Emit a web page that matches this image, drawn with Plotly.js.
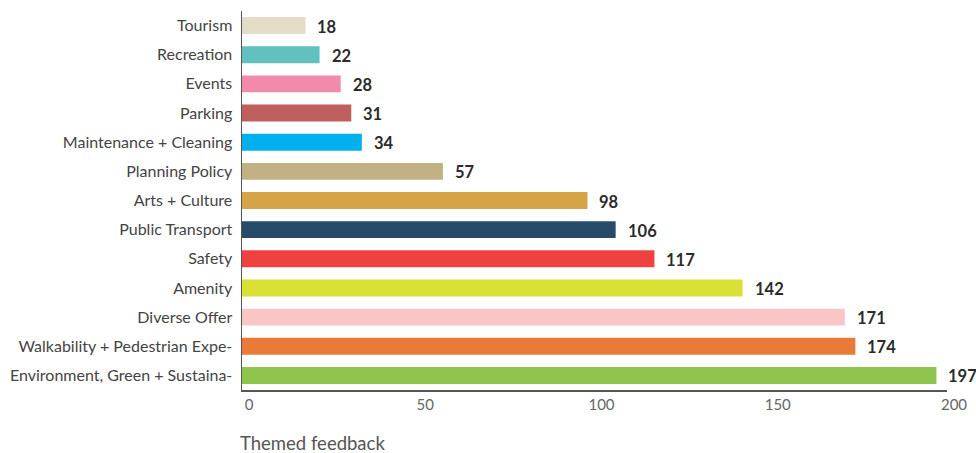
<!DOCTYPE html>
<html>
<head>
<meta charset="utf-8">
<script src="https://cdn.plot.ly/plotly-3.0.1.min.js"></script>
<style>html,body{margin:0;padding:0;background:#fff;}#chart{width:976px;height:453px;}</style>
</head>
<body>
<div id="chart"></div>
<script>
const categories = ["Tourism","Recreation","Events","Parking","Maintenance + Cleaning","Planning Policy","Arts + Culture","Public Transport","Safety","Amenity","Diverse Offer","Walkability + Pedestrian Expe-","Environment, Green + Sustaina-"];
const values = [18,22,28,31,34,57,98,106,117,142,171,174,197];
const colors = ["#e3dcc6","#62c1bf","#f48aab","#bf5f5e","#00b0ef","#c2b183","#d4a447","#264c69","#ef4240","#d9e036","#f9c5c5","#ea7a37","#8fc54c"];
const xTicks = [0,50,100,150,200];
const xTitle = "Themed feedback";

const trace = {
  type: "bar",
  orientation: "h",
  x: values,
  y: categories,
  marker: {color: colors, line: {width: 0}},
  hoverinfo: "none"
};

const annotations = values.map((v, i) => ({
  x: v, y: categories[i], xref: "x", yref: "y",
  text: String(v), showarrow: false, xanchor: "left", xshift: 10, yshift: -1,
  font: {family: "Lato, 'Open Sans', sans-serif", size: 16.5, color: "#2b2b2b", weight: "bold"}
}));
annotations.push({
  x: 0, y: 0, xref: "paper", yref: "paper", yshift: -66,
  text: xTitle, showarrow: false, xanchor: "left", yanchor: "bottom", xshift: -4,
  font: {family: "Lato, 'Open Sans', sans-serif", size: 18.5, color: "#555"}
});

const layout = {
  width: 976, height: 453,
  margin: {l: 242, r: 29, t: 11, b: 63},
  paper_bgcolor: "#fff", plot_bgcolor: "#fff",
  bargap: 0.42,
  showlegend: false,
  font: {family: "Lato, 'Open Sans', sans-serif", color: "#444"},
  xaxis: {
    range: [0, 200], tickvals: xTicks, ticktext: xTicks.map(String),
    showgrid: false, zeroline: false, showline: true, linecolor: "#555", linewidth: 1.5,
    ticks: "", ticklabelshift: 7, ticklabelstandoff: 0,
    tickfont: {family: "Lato, 'Open Sans', sans-serif", size: 15, color: "#666"},
    fixedrange: true
  },
  yaxis: {
    type: "category", categoryorder: "array", categoryarray: categories,
    autorange: "reversed",
    showgrid: false, zeroline: false, showline: true, linecolor: "#555", linewidth: 1.5,
    ticks: "", ticklabelstandoff: 5,
    tickfont: {family: "Lato, 'Open Sans', sans-serif", size: 16, color: "#444"},
    fixedrange: true
  },
  annotations: annotations
};

Plotly.newPlot("chart", [trace], layout, {displayModeBar: false, staticPlot: true});
</script>
</body>
</html>
